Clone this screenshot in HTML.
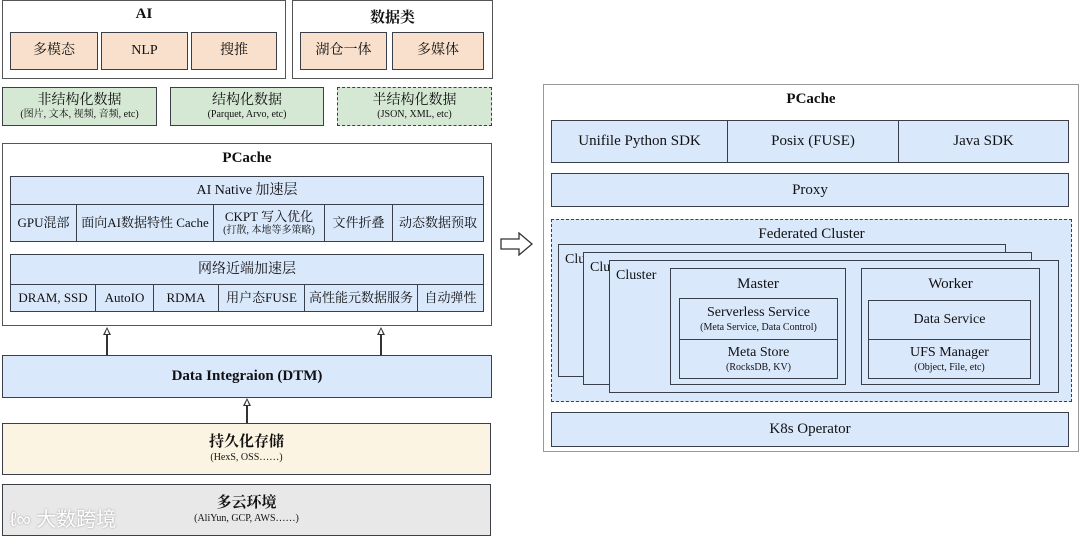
<!DOCTYPE html><html><head><meta charset="utf-8"><style>
body{margin:0;width:1080px;height:537px;background:#fff;position:relative;overflow:hidden;font-family:"Liberation Serif","Noto Serif CJK SC",serif;color:#111}
.b{position:absolute;box-sizing:border-box;border:1.5px solid #3a3f4a;display:flex;flex-direction:column;align-items:center;justify-content:center;text-align:center;font-size:14px;line-height:1.25}
.bl{background:#dae8fc}.pe{background:#f8e0cc}.gr{background:#d5e8d4}.ye{background:#fcf4e2}.gy{background:#e8e8e8}.w{background:#fff}
.s{font-size:10px}
.t{position:absolute;font-size:14px;text-align:center}
.bd{font-weight:bold}
.ar{position:absolute;width:1.5px;background:#333}
.ah{position:absolute;width:0;height:0;border-left:4px solid transparent;border-right:4px solid transparent;border-bottom:8px solid #333}
.ah:after{content:"";position:absolute;left:-2.5px;top:2px;border-left:2.5px solid transparent;border-right:2.5px solid transparent;border-bottom:5px solid #fff}
</style></head><body>
<div class="b w" style="left:2px;top:0;width:284px;height:79px;border-color:#555"></div>
<div class="t bd" style="left:2px;top:6px;width:284px;font-size:15px">AI</div>
<div class="b pe" style="left:10px;top:32px;width:88px;height:38px">多模态</div>
<div class="b pe" style="left:101px;top:32px;width:87px;height:38px">NLP</div>
<div class="b pe" style="left:191px;top:32px;width:86px;height:38px">搜推</div>
<div class="b w" style="left:292px;top:0;width:201px;height:79px;border-color:#555"></div>
<div class="t bd" style="left:292px;top:6px;width:201px;font-size:15px">数据类</div>
<div class="b pe" style="left:300px;top:32px;width:87px;height:38px">湖仓一体</div>
<div class="b pe" style="left:392px;top:32px;width:92px;height:38px">多媒体</div>
<div class="b gr" style="left:2px;top:87px;width:155px;height:39px">非结构化数据<span class="s">(图片, 文本, 视频, 音频, etc)</span></div>
<div class="b gr" style="left:170px;top:87px;width:154px;height:39px">结构化数据<span class="s">(Parquet, Arvo, etc)</span></div>
<div class="b gr" style="left:337px;top:87px;width:155px;height:39px;border-style:dashed">半结构化数据<span class="s">(JSON, XML, etc)</span></div>
<div class="b w" style="left:2px;top:143px;width:490px;height:183px;border-color:#555"></div>
<div class="t bd" style="left:2px;top:150px;width:490px;font-size:15px">PCache</div>
<div class="b bl" style="left:10px;top:176px;width:474px;height:29px">AI Native 加速层</div>
<div class="b bl" style="left:10px;top:204px;width:67px;height:38px;font-size:13px">GPU混部</div>
<div class="b bl" style="left:76px;top:204px;width:138px;height:38px;font-size:13px">面向AI数据特性 Cache</div>
<div class="b bl" style="left:213px;top:204px;width:112px;height:38px;font-size:13px">CKPT 写入优化<span class="s">(打散, 本地等多策略)</span></div>
<div class="b bl" style="left:324px;top:204px;width:69px;height:38px;font-size:13px">文件折叠</div>
<div class="b bl" style="left:392px;top:204px;width:92px;height:38px;font-size:13px">动态数据预取</div>
<div class="b bl" style="left:10px;top:254px;width:474px;height:31px">网络近端加速层</div>
<div class="b bl" style="left:10px;top:284px;width:86px;height:28px;font-size:13px">DRAM, SSD</div>
<div class="b bl" style="left:95px;top:284px;width:59px;height:28px;font-size:13px">AutoIO</div>
<div class="b bl" style="left:153px;top:284px;width:66px;height:28px;font-size:13px">RDMA</div>
<div class="b bl" style="left:218px;top:284px;width:87px;height:28px;font-size:13px">用户态FUSE</div>
<div class="b bl" style="left:304px;top:284px;width:114px;height:28px;font-size:13px">高性能元数据服务</div>
<div class="b bl" style="left:417px;top:284px;width:67px;height:28px;font-size:13px">自动弹性</div>
<div class="ar" style="left:106px;top:334px;height:22px"></div><div class="ah" style="left:103px;top:327px"></div>
<div class="ar" style="left:380px;top:334px;height:22px"></div><div class="ah" style="left:377px;top:327px"></div>
<div class="b bl bd" style="left:2px;top:355px;width:490px;height:43px;font-size:15px">Data Integraion (DTM)</div>
<div class="ar" style="left:246px;top:405px;height:18px"></div><div class="ah" style="left:243px;top:398px"></div>
<div class="b ye bd" style="left:2px;top:423px;width:489px;height:52px;font-size:15px">持久化存储<span class="s" style="font-weight:normal">(HexS, OSS……)</span></div>
<div class="b gy bd" style="left:2px;top:484px;width:489px;height:52px;font-size:15px">多云环境<span class="s" style="font-weight:normal">(AliYun, GCP, AWS……)</span></div>
<div class="t" style="left:10px;top:503px;font-size:20px;color:#fff;text-shadow:0 0 2px #999;font-family:'Liberation Sans','Noto Sans CJK SC',sans-serif">ℓ∞ 大数跨境</div>
<svg style="position:absolute;left:500px;top:232px" width="34" height="24"><path d="M1 7 H19 V1 L32 12 L19 23 V17 H1 Z" fill="#fff" stroke="#333" stroke-width="1.3"/></svg>
<div class="b w" style="left:543px;top:84px;width:536px;height:368px;border-color:#999"></div>
<div class="t bd" style="left:543px;top:91px;width:536px;font-size:15px">PCache</div>
<div class="b bl" style="left:551px;top:120px;width:177px;height:43px;font-size:15px">Unifile Python SDK</div>
<div class="b bl" style="left:727px;top:120px;width:172px;height:43px;font-size:15px">Posix (FUSE)</div>
<div class="b bl" style="left:898px;top:120px;width:171px;height:43px;font-size:15px">Java SDK</div>
<div class="b bl" style="left:551px;top:173px;width:518px;height:34px;font-size:15px">Proxy</div>
<div class="b bl" style="left:551px;top:219px;width:521px;height:183px;border-style:dashed"></div>
<div class="t" style="left:551px;top:226px;width:521px;font-size:15px">Federated Cluster</div>
<div class="b bl" style="left:558px;top:244px;width:448px;height:133px;justify-content:flex-start;align-items:flex-start;padding:6px 0 0 6px;font-size:14px">Cluster</div>
<div class="b bl" style="left:583px;top:252px;width:449px;height:133px;justify-content:flex-start;align-items:flex-start;padding:6px 0 0 6px;font-size:14px">Cluster</div>
<div class="b bl" style="left:609px;top:260px;width:450px;height:133px;justify-content:flex-start;align-items:flex-start;padding:6px 0 0 6px;font-size:14px">Cluster</div>
<div class="b bl" style="left:670px;top:268px;width:176px;height:117px"></div>
<div class="t" style="left:670px;top:276px;width:176px;font-size:15px">Master</div>
<div class="b bl" style="left:679px;top:298px;width:159px;height:42px;font-size:14px">Serverless Service<span class="s">(Meta Service, Data Control)</span></div>
<div class="b bl" style="left:679px;top:339px;width:159px;height:40px;font-size:14px">Meta Store<span class="s">(RocksDB, KV)</span></div>
<div class="b bl" style="left:861px;top:268px;width:179px;height:117px"></div>
<div class="t" style="left:861px;top:276px;width:179px;font-size:15px">Worker</div>
<div class="b bl" style="left:868px;top:300px;width:163px;height:40px;font-size:14px">Data Service</div>
<div class="b bl" style="left:868px;top:339px;width:163px;height:40px;font-size:14px">UFS Manager<span class="s">(Object, File, etc)</span></div>
<div class="b bl" style="left:551px;top:412px;width:518px;height:35px;font-size:15px">K8s Operator</div>
</body></html>
